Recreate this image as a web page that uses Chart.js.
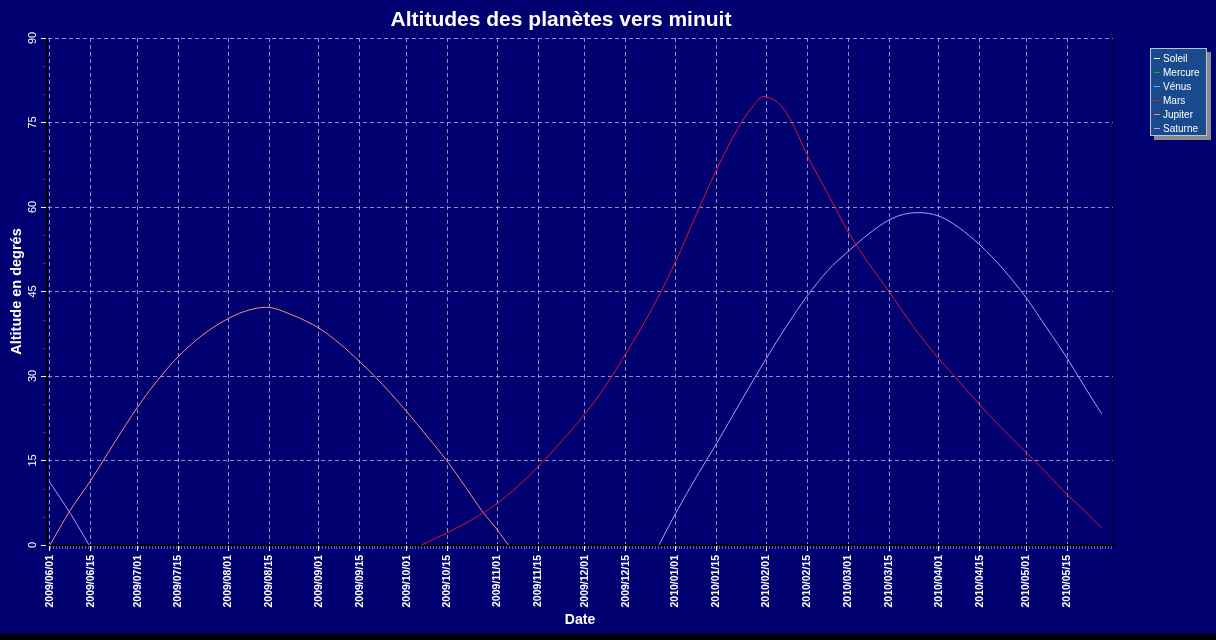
<!DOCTYPE html>
<html lang="fr">
<head>
<meta charset="utf-8">
<title>Altitudes des planètes vers minuit</title>
<script src="https://cdn.jsdelivr.net/npm/chart.js@4/dist/chart.umd.min.js"></script>
<style>
  html, body { margin: 0; padding: 0; background: #000070; }
  canvas { display: block; }
</style>
</head>
<body>
<canvas id="graphe" width="1216" height="640"></canvas>
<script>
// Jours comptés depuis le 2009/06/01
const tickDays = [0, 14, 30, 44, 61, 75, 92, 106, 122, 136, 153, 167, 183, 197, 214, 228, 245, 259, 273, 287, 304, 318, 334, 348];
const tickLabels = ['2009/06/01', '2009/06/15', '2009/07/01', '2009/07/15', '2009/08/01', '2009/08/15',
  '2009/09/01', '2009/09/15', '2009/10/01', '2009/10/15', '2009/11/01', '2009/11/15',
  '2009/12/01', '2009/12/15', '2010/01/01', '2010/01/15', '2010/02/01', '2010/02/15',
  '2010/03/01', '2010/03/15', '2010/04/01', '2010/04/15', '2010/05/01', '2010/05/15'];

// Soleil, Mercure, Vénus : sous l'horizon à minuit, rien de visible
const soleilDays = [];
const soleilAlt = [];
const mercureDays = [];
const mercureAlt = [];
const venusDays = [];
const venusAlt = [];

const marsDays = [127, 136, 145, 153, 160, 167, 175, 183, 190, 197, 206, 214, 221, 228, 235, 240, 244, 248, 251, 254,
  259, 266, 273, 280, 287, 295, 304, 311, 318, 326, 334, 341, 348, 354, 359.7];
const marsAlt = [0, 2.2, 4.7, 7.4, 10.4, 13.9, 18.4, 23.3, 28.2, 34.0, 42.0, 50.3, 58.6, 66.6, 73.7, 77.6, 79.6, 78.9, 77.4, 74.8,
  69.2, 62.4, 55.6, 50.0, 45.0, 39.0, 33.1, 29.0, 24.9, 20.5, 16.4, 12.7, 8.9, 6.0, 3.0];

const jupiterDays = [0, 7, 14, 22, 30, 38, 44, 52, 61, 68, 74, 83, 92, 99, 106, 111, 122, 129, 136, 142, 148, 153, 156.8];
const jupiterAlt = [0, 6.2, 11.5, 18.1, 24.5, 30.0, 33.5, 37.2, 40.2, 41.7, 42.2, 40.8, 38.5, 35.8, 32.5, 30.0, 23.7, 19.3, 14.8, 10.4, 5.9, 2.7, 0];

const saturneDays = [0, 7, 13.4, 110, 208.3, 214, 221, 228, 236, 245, 252, 259, 266, 273, 280, 287, 292, 297, 304,
  311, 318, 326, 334, 341, 348, 354, 359.7];
const saturneAlt = [11.1, 5.6, 0, null, 0, 5.6, 12.0, 18.0, 25.2, 33.1, 38.9, 44.2, 48.7, 52.1, 55.2, 57.7, 58.7, 59.0, 58.4,
  56.3, 53.3, 49.0, 43.8, 38.5, 33.1, 28.0, 23.3];

const planetes = [
  { nom: 'Soleil', days: soleilDays, alt: soleilAlt, couleur: '#ffffff' },
  { nom: 'Mercure', days: mercureDays, alt: mercureAlt, couleur: '#00c000' },
  { nom: 'Vénus', days: venusDays, alt: venusAlt, couleur: '#33ccff' },
  { nom: 'Mars', days: marsDays, alt: marsAlt, couleur: '#e81030' },
  { nom: 'Jupiter', days: jupiterDays, alt: jupiterAlt, couleur: '#ff8c70' },
  { nom: 'Saturne', days: saturneDays, alt: saturneAlt, couleur: '#c890ff' },
];

const police = '"Liberation Sans", Arial, sans-serif';
const gridColor = 'rgba(190,190,220,0.75)';

// Fond bleu + bande noire en bas
const fond = {
  id: 'fond',
  beforeDraw(chart) {
    const c = chart.ctx;
    c.save();
    c.fillStyle = '#000070';
    c.fillRect(0, 0, chart.width, chart.height);
    c.fillStyle = '#000000';
    c.fillRect(0, chart.height - 6, chart.width, 6);
    c.restore();
  }
};

// Titre, étiquettes verticales de l'axe Y, petites graduations, légende
const details = {
  id: 'details',
  afterDraw(chart) {
    const c = chart.ctx;
    const area = chart.chartArea;
    const xs = chart.scales.x;
    const ys = chart.scales.y;
    c.save();

    // bord droit
    c.strokeStyle = '#000000';
    c.lineWidth = 1;
    c.beginPath();
    c.moveTo(area.right + 0.5, area.top);
    c.lineTo(area.right + 0.5, area.bottom);
    c.stroke();

    // graduations mineures (jours)
    c.strokeStyle = 'rgba(170,170,210,0.6)';
    c.beginPath();
    for (let d = 0; d <= xs.max; d++) {
      const px = Math.round(xs.getPixelForValue(d)) + 0.5;
      c.moveTo(px, area.bottom + 1);
      c.lineTo(px, area.bottom + 4);
    }
    c.stroke();
    c.strokeStyle = '#2838a0';
    c.beginPath();
    for (let v = 5; v < 90; v += 5) {
      if (v % 15 === 0) continue;
      const py = Math.round(ys.getPixelForValue(v)) + 0.5;
      c.moveTo(area.left - 4, py);
      c.lineTo(area.left - 1, py);
    }
    c.stroke();

    // étiquettes Y tournées
    c.fillStyle = '#ffffff';
    c.font = '11px ' + police;
    c.textAlign = 'center';
    c.textBaseline = 'middle';
    ys.ticks.forEach((t) => {
      c.save();
      c.translate(33, ys.getPixelForValue(t.value));
      c.rotate(-Math.PI / 2);
      c.fillText(String(t.value), 0, 0);
      c.restore();
    });

    // titre
    c.font = 'bold 21px ' + police;
    c.fillText('Altitudes des planètes vers minuit', 561, 20);

    // légende
    const lx = 1150, ly = 48, lw = 57, lh = 88;
    c.fillStyle = '#8a8a8a';
    c.fillRect(lx + 4, ly + 4, lw, lh);
    c.fillStyle = '#1a4a8e';
    c.fillRect(lx, ly, lw, lh);
    c.strokeStyle = '#b8c4dc';
    c.strokeRect(lx + 0.5, ly + 0.5, lw - 1, lh - 1);
    c.font = '10px ' + police;
    c.textAlign = 'left';
    chart.data.datasets.forEach((ds, i) => {
      const y = ly + 10 + i * 14;
      c.strokeStyle = ds.borderColor;
      c.beginPath();
      c.moveTo(lx + 4, y + 0.5);
      c.lineTo(lx + 10, y + 0.5);
      c.stroke();
      c.fillStyle = '#ffffff';
      c.fillText(ds.label, lx + 13, y + 1);
    });
    c.restore();
  }
};

const ctx = document.getElementById('graphe').getContext('2d');
const chart = new Chart(ctx, {
  type: 'line',
  data: {
    datasets: planetes.map((p) => ({
      label: p.nom,
      data: p.days.map((d, i) => ({ x: d, y: p.alt[i] })),
      borderColor: p.couleur,
      backgroundColor: p.couleur,
      borderWidth: 1,
      pointRadius: 0,
      cubicInterpolationMode: 'monotone',
      spanGaps: false,
    })),
  },
  options: {
    responsive: false,
    animation: false,
    devicePixelRatio: 1,
    layout: { padding: { top: 38, right: 103, left: 0, bottom: 0 } },
    plugins: {
      legend: { display: false },
      title: { display: false },
      tooltip: { enabled: false },
    },
    scales: {
      x: {
        type: 'linear',
        min: -1,
        max: 363.6,
        afterBuildTicks: (s) => { s.ticks = tickDays.map((v) => ({ value: v })); },
        afterFit: (s) => { s.height = 95; },
        ticks: {
          autoSkip: false,
          minRotation: 90,
          maxRotation: 90,
          padding: 4,
          color: '#ffffff',
          font: { family: police, size: 10.5, weight: 'bold' },
          callback: (v, i) => tickLabels[i],
        },
        grid: { color: gridColor, lineWidth: 1, tickColor: '#ffffff', tickLength: 6, tickBorderDash: [] },
        border: { display: true, color: '#000000', width: 2, dash: [4, 3] },
        title: {
          display: true, text: 'Date', color: '#ffffff',
          font: { family: police, size: 14, weight: 'bold' },
          padding: { top: 4, bottom: 11 },
        },
      },
      y: {
        min: 0,
        max: 90,
        afterFit: (s) => { s.width = 47; },
        ticks: { stepSize: 15, color: 'transparent', font: { family: police, size: 11 } },
        grid: { color: gridColor, lineWidth: 1, tickColor: '#ffffff', tickLength: 6, tickBorderDash: [] },
        border: { display: true, color: '#000000', width: 2, dash: [4, 3] },
        title: {
          display: true, text: 'Altitude en degrés', color: '#ffffff',
          font: { family: police, size: 14.5, weight: 'bold' },
          padding: { top: 8, bottom: 0 },
        },
      },
    },
  },
  plugins: [fond, details],
});
</script>
</body>
</html>
